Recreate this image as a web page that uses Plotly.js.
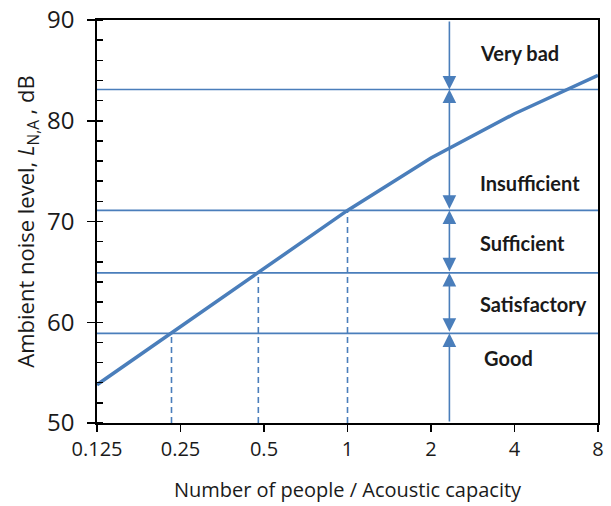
<!DOCTYPE html>
<html>
<head>
<meta charset="utf-8">
<script src="https://cdn.plot.ly/plotly-3.0.1.min.js"></script>
<style>
  html, body { margin: 0; padding: 0; background: #fff; }
  #chart { width: 611px; height: 506px; }
</style>
</head>
<body>
<div id="chart"></div>
<script>
// Ambient noise level against occupancy ratio (log2 x-axis)
const ratio = [0.125, 0.25, 0.5, 1, 2, 4, 8];
const noiseLevel = [53.8, 59.6, 65.4, 71.1, 76.3, 80.7, 84.5];

// Class boundaries (dB) and the ratios where the curve reaches the lower three
const thresholds = [58.9, 64.9, 71.1, 83.1];
const crossRatio = [0.232, 0.477, 1.0];

// Rating bands, bottom to top, with their bounds
const bandNames = ['Good', 'Satisfactory', 'Sufficient', 'Insufficient', 'Very bad'];
const bandLow = [50, 58.9, 64.9, 71.1, 83.1];
const bandHigh = [58.9, 64.9, 71.1, 83.1, 90];

// Ratio at which the band arrows are drawn
const arrowRatio = 2.33;

const tickVals = [0.125, 0.25, 0.5, 1, 2, 4, 8];
const tickText = ['0.125', '0.25', '0.5', '1', '2', '4', '8'];

const BLUE = '#4a7ebb';
const INK = '#1a1a1a';
const lg = v => Math.log10(v);

const traces = [];

// horizontal class boundaries
thresholds.forEach(t => {
  traces.push({
    x: [ratio[0], ratio[ratio.length - 1]], y: [t, t],
    mode: 'lines', line: { color: BLUE, width: 1.6 },
    hoverinfo: 'skip', showlegend: false
  });
});

// dashed drop lines from the curve to the x-axis
crossRatio.forEach((r, i) => {
  traces.push({
    x: [r, r], y: [50, thresholds[i]],
    mode: 'lines', line: { color: BLUE, width: 1.6, dash: '6px,4px' },
    hoverinfo: 'skip', showlegend: false
  });
});

// main curve
traces.push({
  x: ratio, y: noiseLevel, mode: 'lines',
  line: { color: BLUE, width: 3.5 },
  hoverinfo: 'skip', showlegend: false
});

const annotations = [];

// arrows spanning each band
bandNames.forEach((name, i) => {
  const last = i === bandNames.length - 1;
  const side = (i === 0 || last) ? 'end' : 'end+start';
  const headY = last ? bandLow[i] : bandHigh[i];
  const tailY = last ? bandHigh[i] : bandLow[i];
  annotations.push({
    x: lg(arrowRatio), y: headY, ax: lg(arrowRatio), ay: tailY,
    xref: 'x', yref: 'y', axref: 'x', ayref: 'y',
    text: '', showarrow: true, arrowhead: 2, arrowsize: 1.7,
    arrowwidth: 1.6, arrowcolor: BLUE, arrowside: side,
    standoff: 0, startstandoff: 0
  });
});

// band labels
const labelY = [56.5, 61.8, 67.85, 73.8, 86.7];
const labelX = [3.05, 2.955, 2.955, 2.955, 2.955];
bandNames.forEach((name, i) => {
  annotations.push({
    x: lg(labelX[i]), y: labelY[i], xref: 'x', yref: 'y',
    text: '<b>' + name + '</b>', showarrow: false,
    xanchor: 'left', yanchor: 'middle',
    font: { family: 'Lato, "Open Sans", sans-serif', size: 20, color: INK }
  });
});

const layout = {
  width: 611, height: 506,
  margin: { l: 97, r: 13, t: 20, b: 83 },
  paper_bgcolor: '#fff', plot_bgcolor: '#fff',
  showlegend: false,
  font: { family: '"Open Sans", sans-serif', color: INK },
  xaxis: {
    type: 'log', range: [lg(0.125), lg(8)],
    tickvals: tickVals, ticktext: tickText,
    ticks: 'outside', ticklen: 7, tickwidth: 1.5, tickcolor: '#000',
    showline: true, linecolor: '#000', linewidth: 1.8, mirror: true,
    showgrid: false, zeroline: false,
    tickfont: { size: 20, color: INK },
    title: { text: 'Number of people / Acoustic capacity', font: { size: 20, color: INK }, standoff: 22 },
    automargin: false
  },
  yaxis: {
    range: [50, 90], dtick: 10, tick0: 50,
    ticks: 'outside', ticklen: 8, tickwidth: 1.5, tickcolor: '#000',
    minor: { dtick: 2, ticks: 'inside', ticklen: 6, tickwidth: 1.5, tickcolor: '#000', showgrid: false },
    showline: true, linecolor: '#000', linewidth: 1.8, mirror: true,
    showgrid: false, zeroline: false,
    tickfont: { size: 24, color: INK },
    ticklabelstandoff: 8,
    title: { text: 'Ambient noise level, <i>L</i><sub>N,A</sub> , dB', font: { size: 22, color: INK }, standoff: 6 },
    automargin: false
  },
  annotations: annotations
};

Plotly.newPlot('chart', traces, layout, { displayModeBar: false, staticPlot: true });
</script>
</body>
</html>
